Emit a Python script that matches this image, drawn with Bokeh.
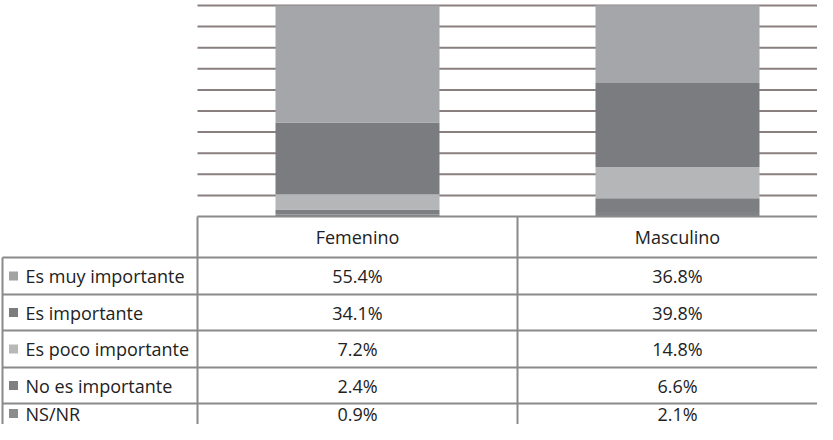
from bokeh.plotting import figure
from bokeh.models import Range1d, ColumnDataSource
from bokeh.core.properties import value
from bokeh.embed import file_html
from bokeh.resources import INLINE

# ---- data ----
groups = ["Femenino", "Masculino"]
categories = ["Es muy importante", "Es importante", "Es poco importante",
              "No es importante", "NS/NR"]
muy_importante = [55.4, 36.8]
importante = [34.1, 39.8]
poco_importante = [7.2, 14.8]
no_importante = [2.4, 6.6]
ns_nr = [0.9, 2.1]
grid_ticks = [10, 20, 30, 40, 50, 60, 70, 80, 90, 100]

series = [muy_importante, importante, poco_importante, no_importante, ns_nr]
colors = ["#a4a6a9", "#7a7c80", "#b4b6b8", "#7c7e81", "#808285"]
legend_colors = ["#a2a2a2", "#7c7c7c", "#b8b8b8", "#808080", "#8c8c8c"]

W, H = 817, 424
PX_PER_PCT = 2.11
Y_TOP = 100 + 5 / PX_PER_PCT
Y_BOT = -(H - 216) / PX_PER_PCT
PX_PER_CAT = 320
X_START = -357 / PX_PER_CAT
X_END = (W - 357) / PX_PER_CAT

p = figure(width=W, height=H, output_backend="svg", toolbar_location=None,
           x_range=Range1d(X_START, X_END), y_range=Range1d(Y_BOT, Y_TOP),
           min_border=0, outline_line_color=None)
p.axis.visible = False
p.grid.visible = False
p.background_fill_color = "white"
p.border_fill_color = "white"

xs = list(range(len(groups)))

# gridlines
grid_col = "#8a7f7f"
p.segment(x0=[-0.5] * len(grid_ticks), x1=[X_END] * len(grid_ticks),
          y0=grid_ticks, y1=grid_ticks, line_color=grid_col, line_width=2)

# stacked bars (bottom to top)
stack_keys = ["ns", "no", "poco", "imp", "muy"]
src = ColumnDataSource(dict(x=xs, ns=ns_nr, no=no_importante, poco=poco_importante,
                            imp=importante, muy=muy_importante))
stack_colors = [colors[4], colors[3], colors[2], colors[1], colors[0]]
p.vbar_stack(stack_keys, x="x", width=164 / PX_PER_CAT, color=stack_colors,
             source=src, line_color=None)

# ---- table ----
line_col = "#8a8a8a"
row_px = [224, 265, 302, 338, 375, 411, 448]
row_y = [(224 - r) / PX_PER_PCT for r in row_px]
x_label_left = (2 - 357) / PX_PER_CAT

# horizontal lines
p.segment(x0=[-0.5], x1=[X_END], y0=[row_y[0]], y1=[row_y[0]],
          line_color=line_col, line_width=2)
p.segment(x0=[x_label_left] * 5, x1=[X_END] * 5, y0=row_y[1:6], y1=row_y[1:6],
          line_color=line_col, line_width=2)
# vertical lines
p.segment(x0=[x_label_left], x1=[x_label_left], y0=[row_y[1]], y1=[Y_BOT],
          line_color=line_col, line_width=2)
p.segment(x0=[-0.5, 0.5], x1=[-0.5, 0.5], y0=[row_y[0]] * 2, y1=[Y_BOT] * 2,
          line_color=line_col, line_width=2)

font = value("Open Sans")
fs = "18px"
txt_col = "#222222"
# header
p.text(x=xs, y=[(row_y[0] + row_y[1]) / 2] * 2, text=groups, text_font=font,
       text_font_size=fs, text_align="center", text_baseline="middle",
       text_color=txt_col)

row_mid = [(row_y[i + 1] + row_y[i + 2]) / 2 for i in range(5)]
# keep the last (partially visible) row inside the picture
row_mid[-1] = (224 - 421) / PX_PER_PCT
# legend squares
p.scatter(x=[(13 - 357) / PX_PER_CAT] * 5, y=row_mid, marker="square", size=9,
          fill_color=legend_colors, line_color=None)
p.text(x=[(25 - 357) / PX_PER_CAT] * 5, y=row_mid, text=categories, text_font=font,
       text_font_size=fs, text_align="left", text_baseline="middle",
       text_color=txt_col)

for gi, g in enumerate(groups):
    vals = [f"{s[gi]:.1f}%" for s in series]
    p.text(x=[gi] * 5, y=row_mid, text=vals, text_font=font,
           text_font_size=fs, text_align="center", text_baseline="middle",
           text_color=txt_col)

open("out.html", "w").write(file_html(p, INLINE))
